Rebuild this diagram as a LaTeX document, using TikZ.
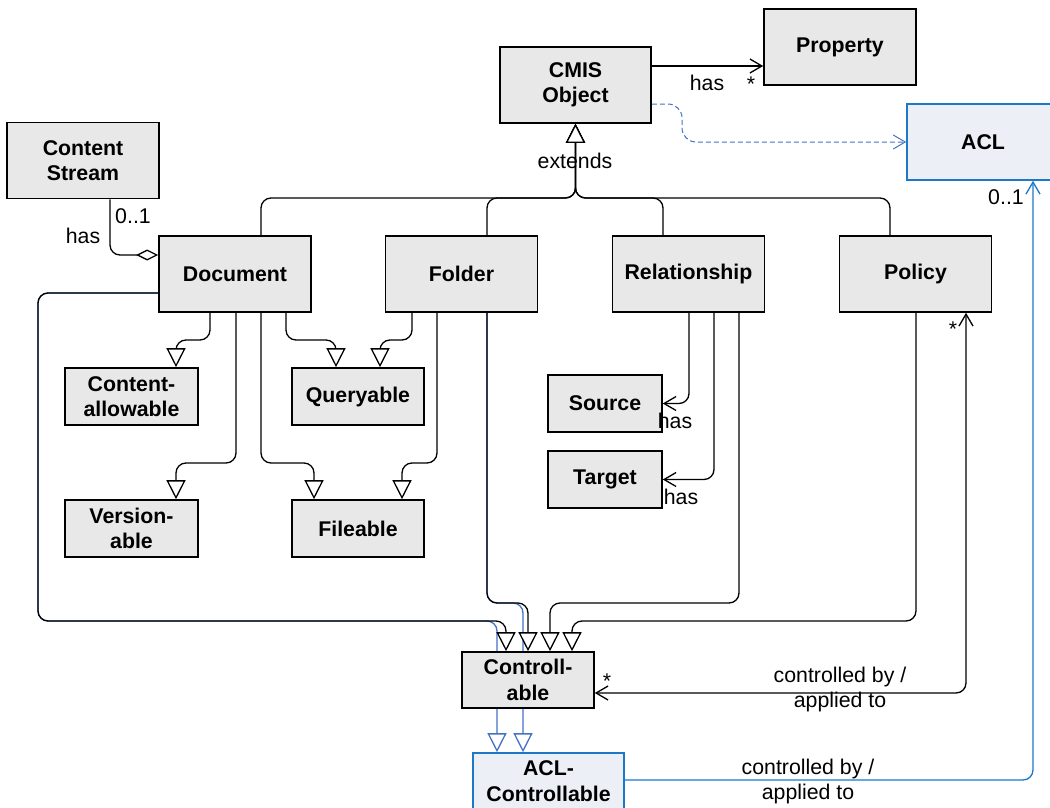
\documentclass[tikz,border=0pt]{standalone}
\usepackage{fontspec}
\setmainfont{Liberation Sans}
\usetikzlibrary{arrows.meta}
\definecolor{boxgray}{RGB}{232,232,232}
\definecolor{aclfill}{RGB}{236,240,246}
\definecolor{aclblue}{RGB}{30,120,200}
\definecolor{genblue}{RGB}{68,114,196}
\pgfdeclarelayer{bg}
\pgfsetlayers{bg,main}
\begin{document}
\begin{tikzpicture}[x=1pt,y=-1pt,
  lbl/.style={font=\fontsize{21.3}{25.5}\selectfont, inner sep=0pt, align=center},
  cls/.style={draw=black, fill=boxgray, line width=1.6pt, inner sep=0pt, align=center,
    font=\fontsize{21.3}{25.5}\selectfont\bfseries},
  bigbox/.style={cls, minimum width=152pt, minimum height=76pt},
  smallbox/.style={cls, minimum width=133pt, minimum height=57pt},
  srcbox/.style={cls, minimum width=114pt, minimum height=57pt},
  aclstyle/.style={draw=aclblue, fill=aclfill},
  conn/.style={draw=black, line width=1.3pt, rounded corners=10pt},
  gen/.style={conn, -{Triangle[length=19pt,width=19pt,fill=white]}},
  bluegen/.style={conn, draw=genblue, -{Triangle[length=19pt,width=19pt,fill=white]}},
  assoc/.style={conn, -{Straight Barb[length=12pt,width=14pt]}},
  both/.style={conn, {Straight Barb[length=12pt,width=14pt]}-{Straight Barb[length=12pt,width=14pt]}},
]
\clip (0,0) rectangle (1050,808);

% classes
\node[bigbox, minimum width=151pt] (cmis) at (575.5,85) {CMIS\\Object};
\node[bigbox] (prop) at (840,47) {Property};
\node[bigbox, aclstyle] (acl) at (983,142) {ACL};
\node[bigbox] (cs) at (83,160.5) {Content\\Stream};
\node[bigbox] (doc) at (235,274) {Document};
\node[bigbox] (folder) at (461.5,274) {Folder};
\node[bigbox] (rel) at (688.5,274) {Relationship};
\node[bigbox] (policy) at (915.5,274) {Policy};
\node[smallbox] (ca) at (131.5,396.5) {Content-\\allowable};
\node[smallbox, minimum width=132pt] (qry) at (358,396.5) {Queryable};
\node[smallbox] (ver) at (131.5,528.5) {Version-\\able};
\node[smallbox, minimum width=132pt] (file) at (358,528.5) {Fileable};
\node[srcbox] (src) at (605,403.5) {Source};
\node[srcbox] (tgt) at (605,479.5) {Target};
\node[smallbox, minimum width=132pt, minimum height=56pt] (ctl) at (528,680) {Controll-\\able};
\node[smallbox, aclstyle, minimum width=151pt, minimum height=56pt] (aclc) at (548.5,781) {ACL-\\Controllable};

% background and blue generalizations to ACL-Controllable (behind)
\begin{pgfonlayer}{bg}
\fill[white] (0,0) rectangle (1050,808);
\draw[bluegen] ([yshift=-19pt]doc.west) -- (38,293) -- (38,621) -- (497,621) -- ([xshift=-51.5pt]aclc.north);
\draw[bluegen] ([xshift=25.5pt]folder.south) -- (487,603) -- (523,603) -- ([xshift=-25.5pt]aclc.north);
\end{pgfonlayer}

% CMIS Object has Property
\draw[assoc] ([yshift=19pt]cmis.east) -- ([yshift=-19pt]prop.west);
\node[lbl] at (707,83) {has};
\node[lbl] at (751,84) {*};

% dashed to ACL
\draw[conn, draw=genblue, dash pattern=on 5pt off 3pt, line width=1pt, rounded corners=14pt, -{Straight Barb[length=12pt,width=14pt]}]
  ([yshift=-19pt]cmis.east) -- (682,104) -- (682,142) -- (acl.west);

% extends
\draw[gen] ([xshift=26pt]doc.north) |- (575.5,198) -- (cmis.south);
\draw[gen] ([xshift=25.5pt]folder.north) |- (575.5,198) -- (cmis.south);
\draw[gen] ([xshift=-25.5pt]rel.north) |- (575.5,198) -- (cmis.south);
\draw[gen] ([xshift=-25.5pt]policy.north) |- (575.5,198) -- (cmis.south);
\node[lbl] at (575,161) {extends};

% Content Stream aggregation
\draw[conn, -{Diamond[length=22pt,width=11pt,fill=white]}] ([xshift=27pt]cs.south) |- ([yshift=19pt]doc.west);
\node[lbl] at (133,216) {0..1};
\node[lbl] at (83,236) {has};

% Document / Folder capabilities
\draw[gen] ([xshift=-25pt]doc.south) -- (210,340) -- (176,340) -- ([xshift=44.5pt]ca.north);
\draw[gen] ([xshift=1pt]doc.south) -- (236,463) -- (176,463) -- ([xshift=44.5pt]ver.north);
\draw[gen] ([xshift=26pt]doc.south) -- (261,463) -- (314,463) -- ([xshift=-44pt]file.north);
\draw[gen] ([xshift=51pt]doc.south) -- (286,340) -- (336,340) -- ([xshift=-22pt]qry.north);
\draw[gen] ([xshift=-49.5pt]folder.south) -- (412,340) -- (380,340) -- ([xshift=22pt]qry.north);
\draw[gen] ([xshift=-24.5pt]folder.south) -- (437,463) -- (402,463) -- ([xshift=44pt]file.north);

% Relationship source / target
\draw[assoc] ([xshift=0.5pt]rel.south) -- (689,403.5) -- (src.east);
\node[lbl] at (675,421) {has};
\draw[assoc] ([xshift=25.5pt]rel.south) -- (714,479.5) -- (tgt.east);
\node[lbl] at (681,497) {has};

% to Controllable
\draw[gen] ([yshift=-19pt]doc.west) -- (38,293) -- (38,621) -- (506,621) -- ([xshift=-22pt]ctl.north);
\draw[gen] ([xshift=25.5pt]folder.south) -- (487,603) -- (528,603) -- (ctl.north);
\draw[gen] ([xshift=50.5pt]rel.south) -- (739,603) -- (550,603) -- ([xshift=22pt]ctl.north);
\draw[gen] ([xshift=0.5pt]policy.south) -- (916,621) -- (572,621) -- ([xshift=44pt]ctl.north);

% Controllable <-> Policy
\draw[both] ([yshift=-13pt]ctl.east) -- (966,693) -- ([xshift=50.5pt]policy.south);
\node[lbl] at (607,681) {*};
\node[lbl] at (953,329) {*};
\node[lbl] at (840,689.5) {controlled by /\\applied to};

% ACL-Controllable -> ACL
\draw[conn, draw=aclblue, -{Straight Barb[length=12pt,width=14pt]}] ([yshift=1pt]aclc.east) -- (1033,780) -- ([xshift=50pt]acl.south);
\node[lbl] at (1006,197) {0..1};
\node[lbl] at (808,781.5) {controlled by /\\applied to};
\end{tikzpicture}
\end{document}
